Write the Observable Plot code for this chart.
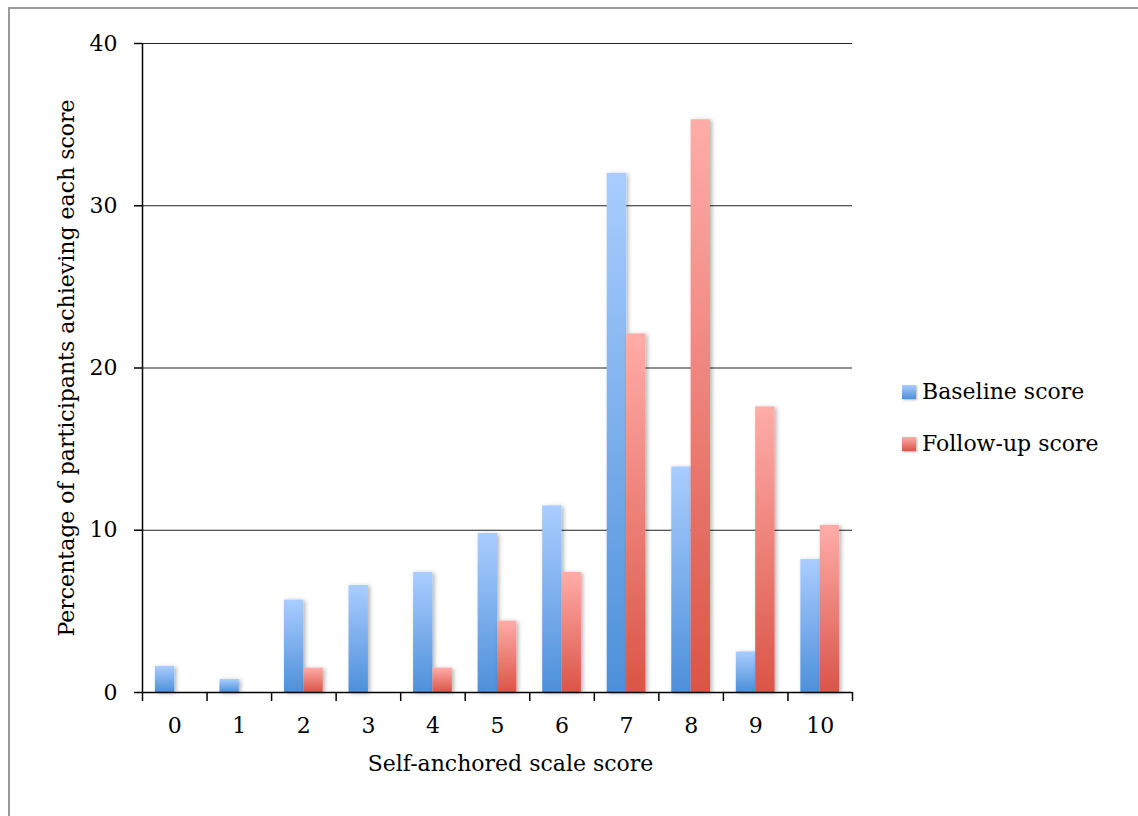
<!DOCTYPE html>
<html>
<head>
<meta charset="utf-8">
<script src="https://cdn.jsdelivr.net/npm/d3@7"></script>
<script src="https://cdn.jsdelivr.net/npm/@observablehq/plot@0.6"></script>
<style>
  html, body { margin: 0; padding: 0; background: #fff; }
  #wrap { position: relative; width: 1138px; height: 816px; overflow: hidden; font-family: "DejaVu Serif", serif; }
  #frame { position: absolute; left: 8px; top: 7px; width: 1300px; height: 1000px; border-top: 2px solid #9a9a9a; border-left: 2px solid #9a9a9a; }
  #chart { position: absolute; left: 0; top: 0; }
  .leg { position: absolute; display: flex; align-items: center; font-size: 22px; color: #000; }
  .sw { width: 14px; height: 14px; margin-right: 6px; box-shadow: 1px 1px 2px rgba(0,0,0,0.3); }
</style>
</head>
<body>
<div id="wrap">
  <div id="frame"></div>
  <div id="chart"></div>
  <div class="leg" style="left:902px; top:379px;"><div class="sw" style="background:linear-gradient(#aacdff,#4d90da)"></div><span>Baseline score</span></div>
  <div class="leg" style="left:902px; top:431px;"><div class="sw" style="background:linear-gradient(#ffaca9,#db5447)"></div><span>Follow-up score</span></div>
</div>
<script>
const categories = [0, 1, 2, 3, 4, 5, 6, 7, 8, 9, 10];
const baselineScore = [1.6, 0.8, 5.7, 6.6, 7.4, 9.8, 11.5, 32.0, 13.9, 2.5, 8.2];
const followUpScore = [0, 0, 1.5, 0, 1.5, 4.4, 7.4, 22.1, 35.3, 17.6, 10.3];
const yTicks = [0, 10, 20, 30, 40];
const xLabel = "Self-anchored scale score";
const yLabel = "Percentage of participants achieving each score";

const baseRows = categories.map((c, i) => ({cat: c, v: baselineScore[i]}));
const followRows = categories.map((c, i) => ({cat: c, v: followUpScore[i]})).filter(d => d.v > 0);
const boundaries = [...categories.map(c => c - 0.5), categories[categories.length - 1] + 0.5];
const xDomain = [boundaries[0], boundaries[boundaries.length - 1]];
const barW = 0.3;

const svg = Plot.plot({
  width: 1138,
  height: 816,
  marginLeft: 142,
  marginRight: 286,
  marginTop: 43,
  marginBottom: 124,
  x: {domain: xDomain},
  y: {domain: [0, 40]},
  style: {fontFamily: "DejaVu Serif", fontSize: "22px", color: "#000", background: "transparent"},
  marks: [
    Plot.ruleY(yTicks.filter(t => t > 0), {stroke: "#222", strokeWidth: 1.2}),
    Plot.rect(baseRows, {x1: d => d.cat - barW, x2: d => d.cat, y1: 0, y2: "v", fill: "url(#gBlue)"}),
    Plot.rect(followRows, {x1: d => d.cat, x2: d => d.cat + barW, y1: 0, y2: "v", fill: "url(#gRed)"}),
    Plot.ruleX([xDomain[0]], {stroke: "#000", strokeWidth: 1.5}),
    Plot.ruleY([0], {stroke: "#000", strokeWidth: 1.5}),
    Plot.axisY({ticks: yTicks, tickSize: 8, tickPadding: 17, label: null, strokeWidth: 1.5}),
    Plot.axisX({ticks: categories, tickSize: 0, tickPadding: 25, label: null, tickFormat: d => String(d)}),
    Plot.axisX({ticks: boundaries, tickSize: 9, tickFormat: () => "", label: null, strokeWidth: 1.5}),
    Plot.text([xLabel], {frameAnchor: "bottom", dy: 78, dx: 13, fontSize: 22}),
    Plot.text([yLabel], {frameAnchor: "left", textAnchor: "middle", rotate: -90, dx: -76, fontSize: 22})
  ]
});

const s = d3.select(svg);
const defs = s.insert("defs", ":first-child");
function grad(id, top, bottom) {
  const g = defs.append("linearGradient").attr("id", id).attr("x1", 0).attr("y1", 0).attr("x2", 0).attr("y2", 1);
  g.append("stop").attr("offset", "0%").attr("stop-color", top);
  g.append("stop").attr("offset", "100%").attr("stop-color", bottom);
}
grad("gBlue", "#aacdff", "#4d90da");
grad("gRed", "#ffaca9", "#db5447");
const f = defs.append("filter").attr("id", "shadow").attr("x", "-50%").attr("y", "-10%").attr("width", "200%").attr("height", "120%");
f.append("feDropShadow").attr("dx", 2).attr("dy", 1).attr("stdDeviation", 2).attr("flood-color", "#000").attr("flood-opacity", 0.3);
s.selectAll("g[aria-label=rect]").attr("filter", "url(#shadow)");

document.getElementById("chart").appendChild(svg);
</script>
</body>
</html>
